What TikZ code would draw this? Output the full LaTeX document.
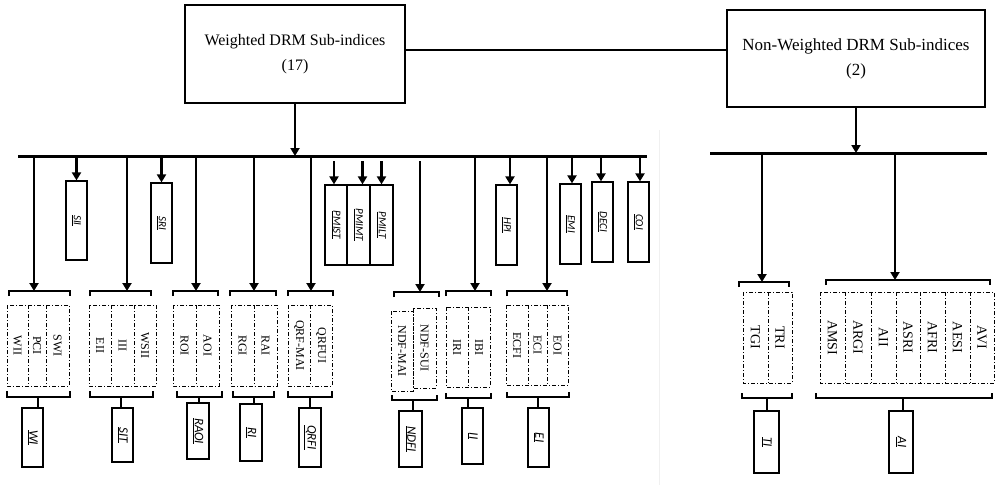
\documentclass[tikz,border=0pt]{standalone}
\usepackage{fontspec}
\setmainfont{Liberation Serif}
\newfontfamily\lblfont{Carlito}
\usetikzlibrary{arrows.meta}
\newcommand{\ibx}[6]{\node[ibox, minimum width={(#3-#2)*1pt}, minimum height={(#5-#4)*1pt}] (#1) at ({(#2+#3)/2},{(#4+#5)/2}) {\rotatebox{-90}{#6}};}
\newcommand{\toplab}[1]{{\lblfont\itshape\fontsize{11}{11}\selectfont\underline{#1}}}
\newcommand{\botlab}[1]{{\lblfont\itshape\fontsize{13}{13}\selectfont\underline{#1}}}
\newcommand{\clab}[3]{\node[lab] (#1) at #2 {\rotatebox{-90}{#3}};}
\newcommand{\rlab}[3]{\node[labr] (#1) at #2 {\rotatebox{-90}{#3}};}
\begin{document}
\begin{tikzpicture}[x=1pt,y=-1pt,
  bus/.style={line width=3pt},
  conn/.style={line width=2.6pt},
  arr/.style={line width=2.6pt,-{Triangle[width=9pt,length=8pt]}},
  brk/.style={line width=2pt},
  dbox/.style={line width=1pt, dash pattern=on 4pt off 2pt on 1pt off 2pt},
  ibox/.style={draw, line width=1.2pt, inner sep=0pt},
  topbox/.style={draw, line width=2pt, align=center, inner sep=0pt, font=\fontsize{16}{25}\selectfont},
  lab/.style={inner sep=0pt, font=\fontsize{12}{12}\selectfont},
  labr/.style={inner sep=0pt, font=\fontsize{14}{14}\selectfont}]
\useasboundingbox (0,0) rectangle (997,485);
\fill[white] (0,0) rectangle (997,485);
\draw[gray!12, line width=1pt] (659,130) -- (659,485);

% top boxes
\node[topbox, minimum width=220pt, minimum height=98pt] (w) at (295,54) {Weighted DRM Sub-indices\\(17)};
\node[topbox, minimum width=258pt, minimum height=97pt, font=\fontsize{17}{25}\selectfont] (nw) at (856,58.5) {Non-Weighted DRM Sub-indices\\(2)};
\coordinate (link) at (0,50);
\draw[conn] (w.east |- link) -- (nw.west |- link);

% buses
\coordinate (busL) at (18,156); \coordinate (busLe) at (647,156);
\coordinate (busR) at (710,153); \coordinate (busRe) at (987,153);
\draw[bus] (busL) -- (busLe);
\draw[bus] (busR) -- (busRe);
\draw[arr] (w.south) -- (w.south |- busL);
\draw[arr] (nw.south) -- (nw.south |- busR);
\coordinate (gap) at (0,161);

% ---------- top small boxes ----------
\ibx{sii}{66}{87}{181}{260}{\toplab{SII}}
\ibx{sri}{151}{172}{183}{263}{\toplab{SRI}}
\ibx{pmist}{325}{347}{185}{265}{\toplab{PMIST}}
\ibx{pmimt}{347}{370}{185}{265}{\toplab{PMIMT}}
\ibx{pmilt}{370}{393}{185}{265}{\toplab{PMILT}}
\ibx{hpi}{496}{517}{185}{265}{\toplab{HPI}}
\ibx{emi}{560}{581}{184}{264}{\toplab{EMI}}
\ibx{deci}{592}{613}{182}{262}{\toplab{DECI}}
\ibx{coi}{628}{649}{182}{262}{\toplab{COI}}
\draw[arr] (busL -| sii.north) -- (sii.north);
\draw[arr] (busL -| sri.north) -- (sri.north);
\draw[arr] ([xshift=-2pt]pmist.north |- gap) -- ([xshift=-2pt]pmist.north);
\draw[arr] ([xshift=4pt]pmimt.north |- gap) -- ([xshift=4pt]pmimt.north);
\draw[arr] (pmilt.north |- gap) -- (pmilt.north);
\draw[arr] ([xshift=3.5pt]hpi.north |- busL) -- ([xshift=3.5pt]hpi.north);
\draw[arr] ([xshift=1.5pt]emi.north |- busL) -- ([xshift=1.5pt]emi.north);
\draw[arr] ([xshift=-1.5pt]deci.north |- busL) -- ([xshift=-1.5pt]deci.north);
\draw[arr] ([xshift=1.5pt]coi.north |- busL) -- ([xshift=1.5pt]coi.north);

% ---------- WI ----------
\coordinate (wiT) at (34,291);
\draw[arr] (busL -| wiT) -- (wiT);
\draw[brk] (9,296) -- (9,291) -- (70,291) -- (70,296);
\draw[dbox] (7,305) rectangle (69,386) (28,305) -- (28,386) (46,305) -- (46,386);
\clab{wii}{(17.5,345.5)}{WII}
\clab{pci}{(37,345.5)}{PCI}
\clab{swi}{(57.5,345.5)}{SWI}
\draw[brk] (7,391) -- (7,397) -- (70,397) -- (70,391);
\ibx{wi}{22}{43}{408}{467}{\botlab{WI}}
\coordinate (wiS) at (38,397);
\draw[brk] (wiS) -- (wiS |- wi.north);

% ---------- SIT ----------
\coordinate (sitT) at (127,291);
\draw[arr] (busL -| sitT) -- (sitT);
\draw[brk] (90,296) -- (90,291) -- (151,291) -- (151,296);
\draw[dbox] (89,305) rectangle (156,386) (111,305) -- (111,386) (134,305) -- (134,386);
\clab{eii}{(100,345.5)}{EII}
\clab{iii}{(122.5,345.5)}{III}
\clab{wsii}{(145,345.5)}{WSII}
\draw[brk] (90,391) -- (90,397) -- (153,397) -- (153,391);
\ibx{sit}{112}{133}{408}{462}{\botlab{SIT}}
\coordinate (sitS) at (121,397);
\draw[brk] (sitS) -- (sitS |- sit.north);

% ---------- RAOI ----------
\coordinate (raoiT) at (196,291);
\draw[arr] (busL -| raoiT) -- (raoiT);
\draw[brk] (173,296) -- (173,291) -- (218,291) -- (218,296);
\draw[dbox] (173,305) rectangle (219,386) (196,305) -- (196,386);
\clab{roi}{(184.5,345.5)}{ROI}
\clab{aoi}{(207.5,345.5)}{AOI}
\draw[brk] (177,391) -- (177,397) -- (222,397) -- (222,391);
\ibx{raoi}{187}{209}{403}{459}{\botlab{RAOI}}
\coordinate (raoiS) at (199,397);
\draw[brk] (raoiS) -- (raoiS |- raoi.north);

% ---------- RI ----------
\coordinate (riT) at (254,291);
\draw[arr] (busL -| riT) -- (riT);
\draw[brk] (230,296) -- (230,291) -- (276,291) -- (276,296);
\draw[dbox] (231,305) rectangle (277,386) (254,305) -- (254,386);
\clab{rgi}{(242.5,345.5)}{RGI}
\clab{rai}{(265.5,345.5)}{RAI}
\draw[brk] (233,391) -- (233,397) -- (274,397) -- (274,391);
\ibx{ri}{240}{262}{404}{461}{\botlab{RI}}
\coordinate (riS) at (254,397);
\draw[brk] (riS) -- (riS |- ri.north);

% ---------- QRFI ----------
\coordinate (qrfiT) at (311,291);
\draw[arr] (busL -| qrfiT) -- (qrfiT);
\draw[brk] (288,296) -- (288,291) -- (333,291) -- (333,296);
\draw[dbox] (288,305) rectangle (332,386) (310,305) -- (310,386);
\clab{qrfmai}{(299,345.5)}{QRF-MAI}
\clab{qrfui}{(321,345.5)}{QRFUI}
\draw[brk] (288,391) -- (288,397) -- (332,397) -- (332,391);
\ibx{qrfi}{299}{321}{408}{467}{\botlab{QRFI}}
\coordinate (qrfiS) at (310,397);
\draw[brk] (qrfiS) -- (qrfiS |- qrfi.north);

% ---------- NDFI ----------
\coordinate (ndfiT) at (420,292);
\draw[arr] (gap -| ndfiT) -- (ndfiT);
\draw[brk] (394,297) -- (394,292) -- (439,292) -- (439,297);
\draw[dbox] (391,311) rectangle (413,391);
\draw[dbox] (413,308) rectangle (436,388);
\clab{ndfmai}{(402,351)}{NDF-MAI}
\clab{ndfsui}{(424.5,348)}{NDF-SUI}
\draw[brk] (392,395) -- (392,400) -- (437,400) -- (437,395);
\ibx{ndfi}{399}{422}{411}{467}{\botlab{NDFI}}
\coordinate (ndfiS) at (413,400);
\draw[brk] (ndfiS) -- (ndfiS |- ndfi.north);

% ---------- II ----------
\coordinate (iiT) at (475,291);
\draw[arr] (busL -| iiT) -- (iiT);
\draw[brk] (446,296) -- (446,291) -- (491,291) -- (491,296);
\draw[dbox] (446,307) rectangle (490,387) (468,307) -- (468,387);
\clab{iri}{(457,347)}{IRI}
\clab{ibi}{(479,347)}{IBI}
\draw[brk] (446,393) -- (446,398) -- (491,398) -- (491,393);
\ibx{ii}{462}{483}{408}{464}{\botlab{II}}
\coordinate (iiS) at (468,398);
\draw[brk] (iiS) -- (iiS |- ii.north);

% ---------- EI ----------
\coordinate (eiT) at (547,291);
\draw[arr] (busL -| eiT) -- (eiT);
\draw[brk] (507,296) -- (507,291) -- (567,291) -- (567,296);
\draw[dbox] (506,305) rectangle (568,385) (528,305) -- (528,385) (547,305) -- (547,385);
\clab{ecfi}{(517,345)}{ECFI}
\clab{eci}{(537.5,345)}{ECI}
\clab{eoi}{(557.5,345)}{EOI}
\draw[brk] (507,392) -- (507,397) -- (569,397) -- (569,392);
\ibx{ei}{528}{549}{408}{467}{\botlab{EI}}
\coordinate (eiS) at (538,397);
\draw[brk] (eiS) -- (eiS |- ei.north);

% ---------- TI (right) ----------
\coordinate (tiT) at (762,282);
\draw[arr] (busR -| tiT) -- (tiT);
\draw[brk] (739,287) -- (739,282) -- (789,282) -- (789,287);
\draw[dbox] (743,292) rectangle (792,383) (768,292) -- (768,383);
\rlab{tgi}{(755.5,337.5)}{TGI}
\rlab{tri}{(780,337.5)}{TRI}
\draw[brk] (742,393) -- (742,398) -- (792,398) -- (792,393);
\ibx{ti}{754}{779}{411}{473}{\botlab{TI}}
\coordinate (tiS) at (767,398);
\draw[brk] (tiS) -- (tiS |- ti.north);

% ---------- AI (right) ----------
\coordinate (aiT) at (895,280);
\draw[arr] (busR -| aiT) -- (aiT);
\draw[brk] (826,285) -- (826,280) -- (990,280) -- (990,285);
\draw[dbox] (820,292) rectangle (994,383);
\foreach \d in {845,871,896,920,945,970} \draw[dbox] (\d,292) -- (\d,383);
\rlab{amsi}{(832.5,337.5)}{AMSI}
\rlab{argi}{(858,337.5)}{ARGI}
\rlab{aii}{(883.5,337.5)}{AII}
\rlab{asri}{(908,337.5)}{ASRI}
\rlab{afri}{(932.5,337.5)}{AFRI}
\rlab{aesi}{(957.5,337.5)}{AESI}
\rlab{avi}{(982,337.5)}{AVI}
\draw[brk] (816,393) -- (816,398) -- (992,398) -- (992,393);
\ibx{ai}{889}{913}{411}{473}{\botlab{AI}}
\coordinate (aiS) at (903,398);
\draw[brk] (aiS) -- (aiS |- ai.north);
\end{tikzpicture}
\end{document}
